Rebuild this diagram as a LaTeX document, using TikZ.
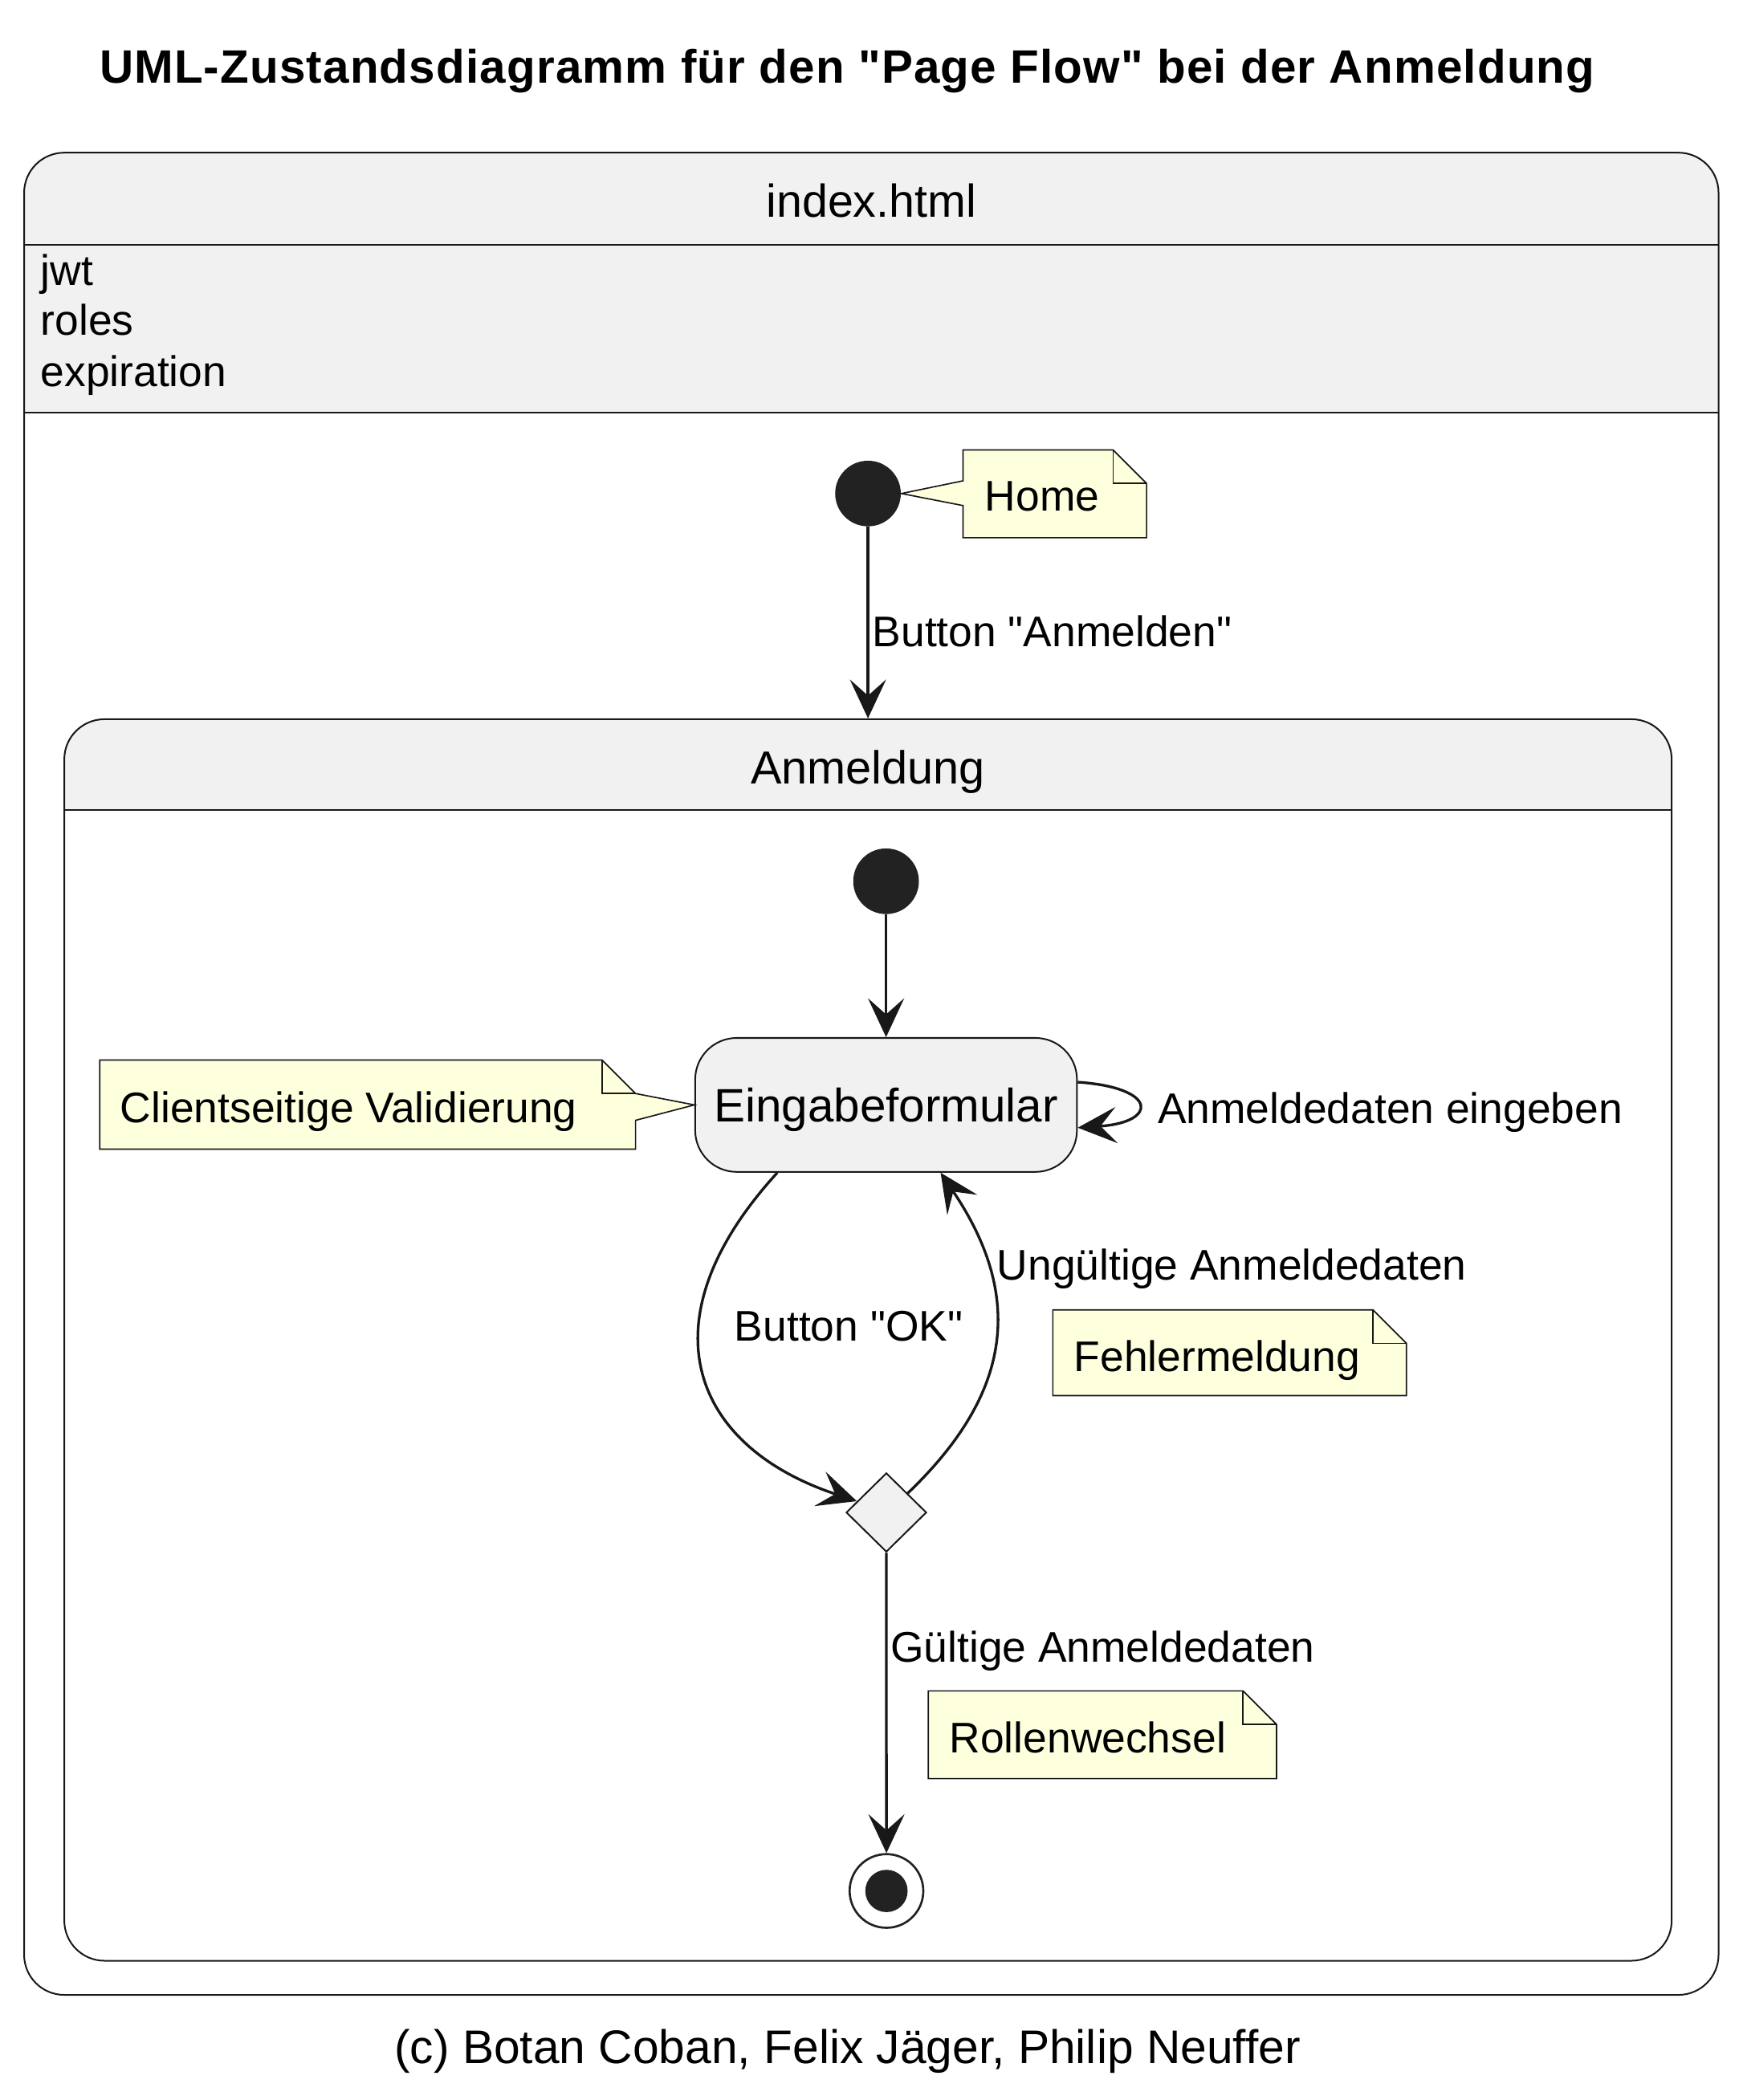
\documentclass[tikz,border=0pt]{standalone}
\usepackage{fontspec}
\setmainfont{Liberation Sans}[Ligatures=TeXOff]
\usetikzlibrary{arrows.meta}
\usetikzlibrary{calc, fit, backgrounds}
\usetikzlibrary{shapes.geometric}

\definecolor{stategray}{HTML}{F1F1F1}
\definecolor{noteyellow}{HTML}{FEFFDD}
\definecolor{umlline}{HTML}{181818}
\definecolor{dotfill}{HTML}{222222}

% note with folded corner: name, x1, y1, x2, y2, text
\newcommand{\umlnote}[6]{%
  \draw[notebox] (#2,#3) -- ({#4-25},#3) -- (#4,{#3+25}) -- (#4,#5) -- (#2,#5) -- cycle;
  \draw[notefold] ({#4-25},#3) -- ({#4-25},{#3+25}) -- (#4,{#3+25});
  \node[notetext] (#1) at ({#2+15.5},{#3+46}) {#6};
}

\begin{document}
\begin{tikzpicture}[x=0.5pt, y=-0.5pt,
    every node/.style={font=\fontsize{16}{19}\selectfont},
    composite/.style={draw=umlline, line width=0.6pt, rounded corners=15pt, inner sep=0pt},
    simplestate/.style={draw=umlline, fill=stategray, line width=0.6pt, rounded corners=15.5pt,
        minimum width=142.5pt, minimum height=50pt, inner sep=0pt, text depth=0pt,
        font=\fontsize{17.5}{21}\selectfont},
    startdot/.style={circle, fill=dotfill, minimum size=24.5pt, inner sep=0pt},
    enddot/.style={circle, draw=dotfill, line width=0.8pt, fill=white, minimum size=27.5pt, inner sep=0pt,
        path picture={\fill[dotfill] (path picture bounding box.center) circle (7.9pt);}},
    decision/.style={diamond, draw=umlline, fill=stategray, line width=0.6pt,
        minimum width=30pt, minimum height=29.5pt, inner sep=0pt},
    notebox/.style={draw=umlline, fill=noteyellow, line width=0.5pt},
    notefold/.style={draw=umlline, line width=0.5pt},
    notetext/.style={anchor=base west, inner sep=0pt},
    lbl/.style={anchor=base west, inner sep=0pt},
    transition/.style={draw=umlline, line width=1pt, -{Stealth[length=14.5pt, width=13.5pt, inset=6pt]}}
  ]
  \useasboundingbox (0,0) rectangle (1298,1568);

  \node[font=\bfseries\fontsize{17.5}{21}\selectfont\addfontfeature{LetterSpace=2}, anchor=base] (title) at (632.5,62)
    {UML-Zustandsdiagramm für den "Page Flow" bei der Anmeldung};

  % outer state index.html
  \node[composite, fit={(18,114) (1283,1489.5)}] (indexhtml) {};
  \begin{scope}[on background layer]
    \clip[rounded corners=15pt] (indexhtml.south west) rectangle (indexhtml.north east);
    \fill[stategray] (indexhtml.north west) rectangle (1283,308); % header + attributes
  \end{scope}
  \draw[umlline, line width=0.6pt] (18,183) -- (1283,183);
  \draw[umlline, line width=0.6pt] (18,308) -- (1283,308);
  \node[anchor=base, font=\fontsize{17.2}{21}\selectfont] (indextitle) at (650.5,162) {index.html};
  \node[lbl] (attjwt) at (30,213) {jwt};
  \node[lbl] (attroles) at (30,250.5) {roles};
  \node[lbl] (attexp) at (30,288.5) {expiration};

  \node[startdot] (start) at (648,368.5) {};
  \draw[notebox] (719,336) -- (831,336) -- (856,361) -- (856,401.5) -- (719,401.5)
    -- (719,377.5) -- (start.east) -- (719,359) -- cycle; % note with pointer
  \draw[notefold] (831,336) -- (831,361) -- (856,361);
  \node[notetext] (home) at (735,381.5) {Home};

  % inner state Anmeldung
  \node[composite, fit={(48,537) (1248,1464)}] (anmeldung) {};
  \begin{scope}[on background layer]
    \clip[rounded corners=15pt] (anmeldung.south west) rectangle (anmeldung.north east);
    \fill[stategray] (anmeldung.north west) rectangle (1248,605);
  \end{scope}
  \draw[umlline, line width=0.6pt] (48,605) -- (1248,605);
  \node[anchor=base, font=\fontsize{17.3}{21}\selectfont] (anmtitle) at (648,585) {Anmeldung};

  \draw[transition] (start) -- (anmeldung.north);
  \node[lbl] (lblanmelden) at (651,483) {Button "Anmelden"};

  \node[startdot] (start2) at (661.5,658) {};
  \node[simplestate] (eingabe) at (661.5,825) {Eingabeformular};
  \draw[transition] (start2) -- (eingabe);

  \draw[notebox] (74.5,791.5) -- (449.5,791.5) -- (474.5,816.5) -- (eingabe.west)
    -- (474.5,836.5) -- (474.5,858) -- (74.5,858) -- cycle;
  \draw[notefold] (449.5,791.5) -- (449.5,816.5) -- (474.5,816.5);
  \node[notetext] (validierung) at (89.5,838) {Clientseitige Validierung};

  % self loop
  \draw[transition] ([yshift=8.5pt]eingabe.east) .. controls +(30pt,-2pt) and +(30pt,2pt)
    .. ([yshift=-8.5pt]eingabe.east);
  \node[lbl] (lbleingeben) at (864,839) {Anmeldedaten eingeben};

  \node[decision] (check) at (661.7,1129.3) {};
  \draw[transition] ([xshift=-40.6pt]eingabe.south) .. controls +(-50.6pt,-55.4pt)
    and +(-61.7pt,20.5pt) .. (check.159);
  \node[lbl] (lblok) at (548,1001) {Button "OK"};

  \draw[transition] (check.42) .. controls +(39.75pt,38pt) and +(30.75pt,-45.6pt)
    .. ([xshift=20.35pt]eingabe.south);
  \node[lbl] (lblungueltig) at (744,955.5) {Ungültige Anmeldedaten};
  \umlnote{fehler}{786}{978}{1050}{1042}{Fehlermeldung}

  \node[enddot] (final) at (661.8,1411.9) {};
  \draw[transition] (check) -- (final);
  \node[lbl] (lblgueltig) at (664.5,1241) {Gültige Anmeldedaten};
  \umlnote{rollen}{693}{1262.5}{953}{1328}{Rollenwechsel}

  \node[anchor=base, font=\fontsize{17.6}{21}\selectfont] (footer) at (632.7,1541)
    {(c) Botan Coban, Felix Jäger, Philip Neuffer};
\end{tikzpicture}
\end{document}
